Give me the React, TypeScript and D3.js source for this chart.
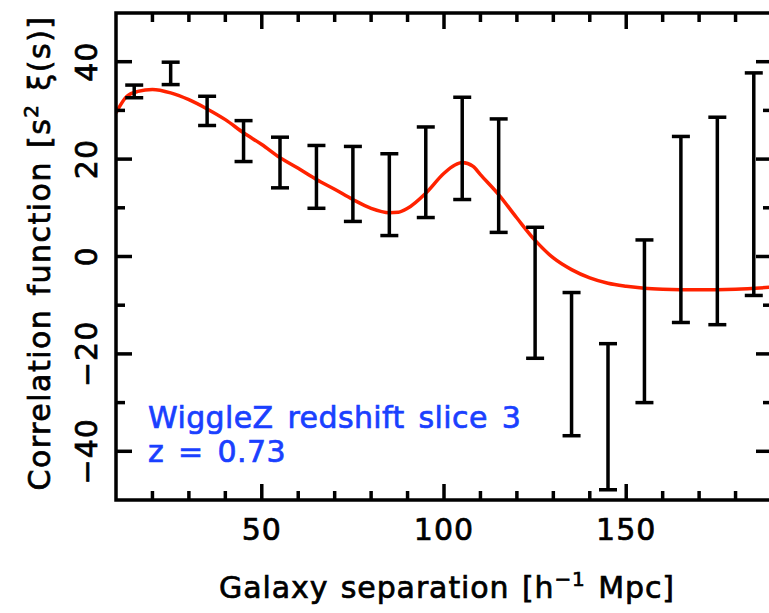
import React from "react";
import * as d3 from "d3";

const binCenters = [15, 25, 35, 45, 55, 65, 75, 85, 95, 105, 115, 125, 135, 145, 155, 165, 175, 185];
const xiValues = [33.9, 37.6, 29.9, 23.7, 19.3, 16.35, 14.9, 12.7, 17.3, 22.2, 16.6, -7.45, -22.1, -32.9, -13.3, 5.55, 7.3, 14.85];
const xiErrors = [1.3, 2.3, 3.0, 4.2, 5.2, 6.45, 7.7, 8.4, 9.3, 10.5, 11.65, 13.45, 14.7, 15.0, 16.7, 19.1, 21.3, 22.85];

const modelS = [10, 13, 16, 20, 25, 30, 35, 40, 45, 50, 55, 60, 65, 70, 75, 80, 85, 87.5, 90, 95, 100, 103, 105, 108, 110, 115, 120, 125, 130, 135, 140, 145, 150, 155, 160, 170, 180, 190];
const modelXi = [29.5, 32.9, 33.9, 34.3, 33.6, 32.2, 30.3, 28.1, 25.4, 23.0, 20.3, 18.1, 15.8, 13.8, 11.7, 9.9, 9.0, 9.1, 9.9, 13.0, 17.1, 18.8, 19.3, 18.5, 16.8, 12.7, 7.9, 3.3, -0.3, -2.7, -4.4, -5.5, -6.1, -6.5, -6.7, -6.85, -6.7, -6.3];

const xMajorTicks = [50, 100, 150];
const xMinorTicks = [20, 30, 40, 60, 70, 80, 90, 110, 120, 130, 140, 160, 170, 180];
const yMajorTicks = [-40, -20, 0, 20, 40];
const yMinorTicks = [-30, -10, 10, 30];

const legendLines = ["WiggleZ redshift slice 3", "z = 0.73"];

const W = 769;
const H = 613;
const L = 116, R = 772, T = 13, B = 500;
const FONT = "DejaVu Sans, sans-serif";

export default function App() {
  const x = d3.scaleLinear().domain([10, 190]).range([L, R]);
  const y = d3.scaleLinear().domain([-50, 50]).range([B, T]);
  const line = d3
    .line<number>()
    .x((_, i) => x(modelS[i]))
    .y((d) => y(d))
    .curve(d3.curveMonotoneX);

  const major = 16;
  const minor = 9;
  const sw = 3.5;
  const cap = 9;
  const textStroke = { stroke: "currentColor", strokeWidth: 0.7 } as const;

  return (
    <svg
      width={W}
      height={H}
      style={{ position: "fixed", left: 0, top: 0, background: "#fff" }}
      fontFamily={FONT}
    >
      <defs>
        <clipPath id="plotclip">
          <rect x={L} y={T} width={R - L} height={B - T} />
        </clipPath>
      </defs>
      {/* model curve */}
      <path
        d={line(modelXi) || ""}
        fill="none"
        stroke="#ff2200"
        strokeWidth={3.5}
        clipPath="url(#plotclip)"
      />
      {/* error bars */}
      {binCenters.map((s, i) => {
        const cx = x(s);
        const y1 = y(xiValues[i] + xiErrors[i]);
        const y2 = y(xiValues[i] - xiErrors[i]);
        return (
          <g key={i} stroke="#000" strokeWidth={3.5}>
            <line x1={cx} x2={cx} y1={y1} y2={y2} />
            <line x1={cx - cap} x2={cx + cap} y1={y1} y2={y1} />
            <line x1={cx - cap} x2={cx + cap} y1={y2} y2={y2} />
          </g>
        );
      })}
      {/* frame */}
      <rect x={L} y={T} width={R - L} height={B - T} fill="none" stroke="#000" strokeWidth={sw} />
      <g stroke="#000" strokeWidth={sw}>
        {xMajorTicks.map((t) => (
          <g key={"xM" + t}>
            <line x1={x(t)} x2={x(t)} y1={B} y2={B - major} />
            <line x1={x(t)} x2={x(t)} y1={T} y2={T + major} />
          </g>
        ))}
        {xMinorTicks.map((t) => (
          <g key={"xm" + t}>
            <line x1={x(t)} x2={x(t)} y1={B} y2={B - minor} />
            <line x1={x(t)} x2={x(t)} y1={T} y2={T + minor} />
          </g>
        ))}
        {yMajorTicks.map((t) => (
          <g key={"yM" + t}>
            <line x1={L} x2={L + major} y1={y(t)} y2={y(t)} />
            <line x1={R} x2={R - major} y1={y(t)} y2={y(t)} />
          </g>
        ))}
        {yMinorTicks.map((t) => (
          <g key={"ym" + t}>
            <line x1={L} x2={L + minor} y1={y(t)} y2={y(t)} />
            <line x1={R} x2={R - minor} y1={y(t)} y2={y(t)} />
          </g>
        ))}
      </g>
      {/* tick labels */}
      <g color="#000" fill="#000" {...textStroke}>
        {xMajorTicks.map((t) => (
          <text key={"xl" + t} x={x(t)} y={540} textAnchor="middle" fontSize={30} letterSpacing={1}>
            {String(t)}
          </text>
        ))}
        {yMajorTicks.map((t) => (
          <text
            key={"yl" + t}
            transform={`translate(97,${y(t)}) rotate(-90)`}
            textAnchor="middle"
            fontSize={30}
            letterSpacing={1}
          >
            {t < 0 ? "\u2212" + Math.abs(t) : String(t)}
          </text>
        ))}
        {/* axis titles */}
        <text x={447} y={598} textAnchor="middle" fontSize={30} letterSpacing={0.9} wordSpacing={2}>
          <tspan>Galaxy separation [h</tspan>
          <tspan dy={-12} fontSize={20}>{"\u22121"}</tspan>
          <tspan dy={12}> Mpc]</tspan>
        </text>
        <text
          transform={`translate(50,253) rotate(-90)`}
          textAnchor="middle"
          fontSize={30}
          letterSpacing={1.5}
          wordSpacing={2}
        >
          <tspan>Correlation function [s</tspan>
          <tspan dy={-12} fontSize={20}>2</tspan>
          <tspan dy={12}> ξ(s)]</tspan>
        </text>
      </g>
      {/* legend */}
      <g color="#1a40ff" fill="#1a40ff" {...textStroke}>
        {legendLines.map((l, i) => (
          <text key={l} x={148} y={428 + i * 34} fontSize={30} letterSpacing={0.4} wordSpacing={4}>
            {l}
          </text>
        ))}
      </g>
    </svg>
  );
}
